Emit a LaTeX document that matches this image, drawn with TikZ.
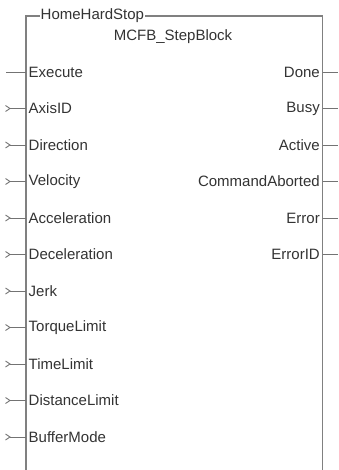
\documentclass[tikz,border=0pt]{standalone}
\usepackage{fontspec}
\setmainfont{Liberation Sans}
\begin{document}
\begin{tikzpicture}[x=1pt,y=-1pt,
  boxline/.style={draw=black!50,line width=1.1pt},
  pinline/.style={draw=black!55,line width=0.9pt},
  lbl/.style={inner sep=0pt,font=\fontsize{15}{17}\selectfont,text=black!80},
  inl/.style={lbl,anchor=west},
  outl/.style={lbl,anchor=east}]
\useasboundingbox (0,0) rectangle (338,470);
% box
\node[lbl,anchor=west] (title) at (40.5,16) {HomeHardStop};
\node[lbl] (type) at (173,37) {MCFB\_StepBlock};
\coordinate (tl) at (26,16);
\coordinate (tr) at (322.5,16);
\coordinate (bl) at (26,470);
\coordinate (br) at (322.5,470);
\draw[boxline] (bl) -- (tl) -- ([xshift=-1pt]title.west);
\draw[boxline] ([xshift=1pt]title.east) -- (tr) -- (br);
% inputs
\foreach \name/\txt/\i in {iExec/Execute/0}{
  \node[inl] (\name) at (28.5,72+36.5*\i) {\txt};
  \coordinate (\name e) at (6,72+36.5*\i);
  \coordinate (\name b) at (26,72+36.5*\i);
  \draw[pinline] (\name e) -- (\name b);
}
\foreach \name/\txt/\i in {iAxis/AxisID/1,iDir/Direction/2,iVel/Velocity/3,iAcc/Acceleration/4,iDec/Deceleration/5,iJerk/Jerk/6,iTorq/TorqueLimit/7,iTime/TimeLimit/8,iDist/DistanceLimit/9,iBuf/BufferMode/10}{
  \node[inl] (\name) at (28.5,72+36.5*\i) {\txt};
  \coordinate (\name e) at (10,72+36.5*\i);
  \coordinate (\name b) at (26,72+36.5*\i);
  \draw[pinline] (\name e) -- (\name b);
  \draw[pinline] ([shift={(-4.5,-3)}]\name e) -- (\name e) -- ([shift={(-4.5,3)}]\name e);
}
% outputs
\foreach \name/\txt/\i in {oDone/Done/0,oBusy/Busy/1,oAct/Active/2,oCmd/CommandAborted/3,oErr/Error/4,oErrID/ErrorID/5}{
  \node[outl] (\name) at (320,72+36.5*\i) {\txt};
  \coordinate (\name b) at (322.5,72+36.5*\i);
  \coordinate (\name e) at (338,72+36.5*\i);
  \draw[pinline] (\name b) -- (\name e);
}
\end{tikzpicture}
\end{document}
